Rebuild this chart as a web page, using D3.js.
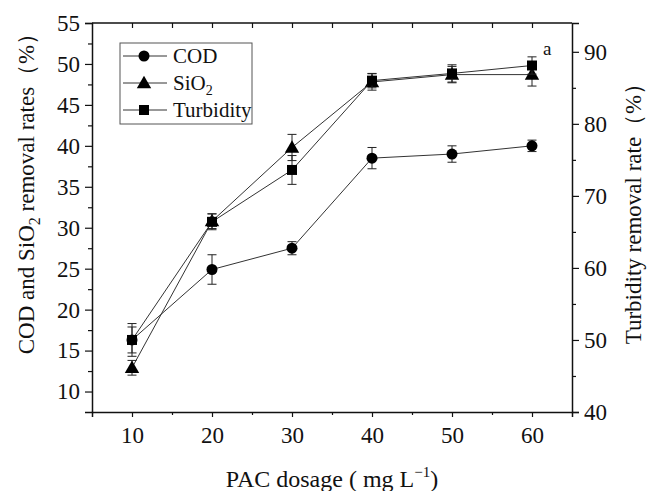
<!DOCTYPE html>
<html>
<head>
<meta charset="utf-8">
<script src="https://cdn.jsdelivr.net/npm/d3@7"></script>
<style>
  body { margin: 0; background: #fff; }
  svg text { font-family: "Liberation Serif", "Times New Roman", serif; fill: #111; }
</style>
</head>
<body>
<div id="chart"></div>
<script>
// dosage (mg/L) and removal rates
var dosage = [10, 20, 30, 40, 50, 60];
var codRate = [16.3, 24.9, 27.5, 38.5, 39.0, 40.0];
var codErr = [2.0, 1.8, 0.8, 1.3, 1.0, 0.7];
var sio2Rate = [12.9, 30.8, 39.8, 47.8, 48.7, 48.7];
var sio2Err = [0.9, 0.9, 1.6, 1.0, 1.0, 1.4];
var turbRate = [50.0, 66.4, 73.6, 86.0, 87.0, 88.1];
var turbErr = [1.8, 1.1, 2.0, 1.0, 1.2, 1.2];

var leftTicks = [10, 15, 20, 25, 30, 35, 40, 45, 50, 55];
var rightTicks = [40, 50, 60, 70, 80, 90];

var W = 648, H = 491;
var margin = {top: 23, right: 76, bottom: 79, left: 92};
var width = W - margin.left - margin.right,
    height = H - margin.top - margin.bottom;

var svg = d3.select("#chart").append("svg")
    .attr("width", W)
    .attr("height", H);

var g = svg.append("g")
    .attr("transform", "translate(" + margin.left + "," + margin.top + ")");

var x = d3.scaleLinear().domain([5, 65]).range([0, width]);
var yL = d3.scaleLinear().domain([7.5, 55]).range([height, 0]);
var yR = d3.scaleLinear().domain([40, 94]).range([height, 0]);

// minor ticks first
g.append("g").attr("class", "minor")
    .attr("transform", "translate(0," + height + ")")
    .call(d3.axisBottom(x).tickValues([15, 25, 35, 45, 55]).tickSize(3).tickFormat(""));
g.append("g").attr("class", "minor")
    .call(d3.axisTop(x).tickValues([10, 15, 20, 25, 30, 35, 40, 45, 50, 55, 60]).tickSize(-5).tickFormat(""));
g.append("g").attr("class", "minor")
    .call(d3.axisLeft(yL).tickValues(d3.range(12.5, 55, 5)).tickSize(4).tickFormat(""));
g.append("g").attr("class", "minor")
    .attr("transform", "translate(" + width + ",0)")
    .call(d3.axisRight(yR).tickValues(d3.range(45, 94, 10)).tickSize(4).tickFormat(""));

// main axes
var xAxis = g.append("g")
    .attr("transform", "translate(0," + height + ")")
    .call(d3.axisBottom(x).tickValues(dosage).tickSize(5).tickPadding(10));
var yAxisL = g.append("g")
    .call(d3.axisLeft(yL).tickValues(leftTicks).tickSize(7).tickPadding(5));
var yAxisR = g.append("g")
    .attr("transform", "translate(" + width + ",0)")
    .call(d3.axisRight(yR).tickValues(rightTicks).tickSize(7).tickPadding(5));

g.selectAll(".domain").attr("stroke", "#111").attr("stroke-width", 1.5);
g.selectAll(".tick line").attr("stroke", "#111").attr("stroke-width", 1.2);
g.selectAll(".minor .domain").remove();
g.selectAll(".tick text").style("font-size", "23px").attr("fill", "#111")
    .style("font-family", "'Liberation Serif', serif");

// top frame line
g.append("line")
    .attr("x1", 0).attr("x2", width)
    .attr("y1", 0).attr("y2", 0)
    .attr("stroke", "#111").attr("stroke-width", 1.5);

// series drawing
function drawSeries(vals, errs, yScale, shape) {
    var pts = dosage.map(function(d, i) { return {x: d, y: vals[i], e: errs[i]}; });
    var line = d3.line()
        .x(function(d) { return x(d.x); })
        .y(function(d) { return yScale(d.y); });
    g.append("path")
        .datum(pts)
        .attr("d", line)
        .attr("fill", "none")
        .attr("stroke", "#333")
        .attr("stroke-width", 1);

    var eb = g.append("g").selectAll("g").data(pts).enter().append("g")
        .attr("stroke", "#222").attr("stroke-width", 1);
    eb.append("line")
        .attr("x1", function(d) { return x(d.x); })
        .attr("x2", function(d) { return x(d.x); })
        .attr("y1", function(d) { return yScale(d.y - d.e); })
        .attr("y2", function(d) { return yScale(d.y + d.e); });
    [-1, 1].forEach(function(s) {
        eb.append("line")
            .attr("x1", function(d) { return x(d.x) - 4.5; })
            .attr("x2", function(d) { return x(d.x) + 4.5; })
            .attr("y1", function(d) { return yScale(d.y + s * d.e); })
            .attr("y2", function(d) { return yScale(d.y + s * d.e); });
    });

    var sym = d3.symbol().type(shape).size(shape === d3.symbolSquare ? 100 : (shape === d3.symbolCircle ? 95 : 90));
    g.append("g").selectAll("path").data(pts).enter().append("path")
        .attr("d", sym)
        .attr("transform", function(d) {
            var dy = shape === d3.symbolTriangle ? 1 : 0;
            return "translate(" + x(d.x) + "," + (yScale(d.y) + dy) + ")";
        })
        .attr("fill", "#000");
}

drawSeries(codRate, codErr, yL, d3.symbolCircle);
drawSeries(sio2Rate, sio2Err, yL, d3.symbolTriangle);
drawSeries(turbRate, turbErr, yR, d3.symbolSquare);

// legend
var legend = svg.append("g").attr("transform", "translate(120,43)");
legend.append("rect")
    .attr("width", 132).attr("height", 81)
    .attr("fill", "#fff").attr("stroke", "#555").attr("stroke-width", 1);
var items = [
    {name: "COD", shape: d3.symbolCircle, size: 95},
    {name: "SiO", sub: "2", shape: d3.symbolTriangle, size: 90},
    {name: "Turbidity", shape: d3.symbolSquare, size: 100}
];
items.forEach(function(it, i) {
    var yy = 13 + i * 27;
    legend.append("line")
        .attr("x1", 3).attr("x2", 47).attr("y1", yy).attr("y2", yy)
        .attr("stroke", "#333").attr("stroke-width", 1);
    legend.append("path")
        .attr("d", d3.symbol().type(it.shape).size(it.size))
        .attr("transform", "translate(24," + (yy + (it.shape === d3.symbolTriangle ? 1 : 0)) + ")")
        .attr("fill", "#000");
    var t = legend.append("text")
        .attr("x", 53).attr("y", yy + 7)
        .style("font-size", "21px")
        .text(it.name);
    if (it.sub) {
        t.append("tspan").attr("dy", 5).style("font-size", "14px").text(it.sub);
    }
});

// panel letter
svg.append("text")
    .attr("x", 543).attr("y", 55)
    .style("font-size", "19px")
    .text("a");

// axis titles
var xt = svg.append("text")
    .attr("x", margin.left + x(35)).attr("y", 487)
    .attr("text-anchor", "middle")
    .style("font-size", "24px")
    .text("PAC dosage ( mg L");
xt.append("tspan").attr("dy", -10).style("font-size", "15px").text("\u22121");
xt.append("tspan").attr("dy", 10).text(")");

var ylt = svg.append("text")
    .attr("transform", "translate(34,188) rotate(-90)")
    .attr("text-anchor", "middle")
    .style("font-size", "23px")
    .text("COD and SiO");
ylt.append("tspan").attr("dy", 6).style("font-size", "16px").text("2");
ylt.append("tspan").attr("dy", -6).text(" removal rates\uff08%\uff09");

svg.append("text")
    .attr("transform", "translate(641,208) rotate(-90)")
    .attr("text-anchor", "middle")
    .style("font-size", "23px")
    .text("Turbidity removal rate\uff08%\uff09");
</script>
</body>
</html>
